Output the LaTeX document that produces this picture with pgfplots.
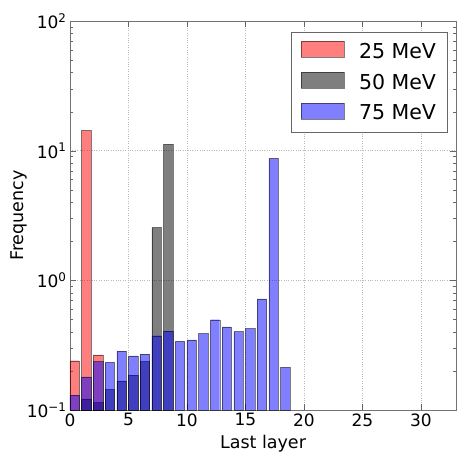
\documentclass[border=0pt]{standalone}
\usepackage{pgfplots}
\pgfplotsset{compat=1.18}
\usetikzlibrary{calc}
\usepackage{fontspec}
\setmainfont{DejaVu Sans}
\definecolor{cred}{RGB}{255,0,0}
\definecolor{cblue}{RGB}{0,0,255}
\begin{document}
\begin{tikzpicture}
\begin{axis}[
  scale only axis,
  width=386pt, height=389pt,
  xmin=0, xmax=33,
  ymode=log, ymin=0.1, ymax=100,
  log origin=infty,
  ybar, bar width=0.8, bar shift=0.4,
  xtick={0,5,10,15,20,25,30},
  ytick={0.1,1,10,100},
  yticklabels={10\textsuperscript{−1},10\textsuperscript{0},10\textsuperscript{1},10\textsuperscript{2}},
  /pgf/number format/assume math mode=true,
  tick label style={font=\fontsize{17}{20}\selectfont},
  label style={font=\fontsize{17.5}{21}\selectfont},
  xlabel={Last layer}, ylabel={Frequency},
  xlabel style={yshift=-2pt},
  ylabel style={yshift=-7pt},
  grid=major,
  major grid style={dotted, gray!55},
  axis line style={black!55},
  tick style={black!60},
  tick align=inside,
  major tick length=6pt, minor tick length=3pt,
  xtick pos=both, ytick pos=both,
  legend style={at={(0.977,0.972)}, anchor=north east, draw=black!60,
    font=\fontsize{20.5}{24}\selectfont, row sep=10pt, inner xsep=9pt, inner ysep=9pt,
    legend cell align=left},
  legend image code/.code={\draw[#1] (0pt,-6pt) rectangle (43pt,10pt);},
]
\addplot[fill=cred, draw=black, opacity=0.5] coordinates {
(0,0.24) (1,14.3) (2,0.266)};
\addlegendentry{\hspace{13pt}25 MeV\hspace{2pt}}
\addplot[fill=black, draw=black, opacity=0.5] coordinates {
(1,0.122) (2,0.114) (3,0.1445) (4,0.168) (5,0.186) (6,0.237) (7,2.55) (8,11.2)};
\addlegendentry{\hspace{13pt}50 MeV\hspace{2pt}}
\addplot[fill=cblue, draw=black, opacity=0.5] coordinates {
(0,0.13) (1,0.18) (2,0.236) (3,0.233) (4,0.284) (5,0.261) (6,0.270) (7,0.374) (8,0.405)
(9,0.339) (10,0.347) (11,0.388) (12,0.497) (13,0.437) (14,0.402) (15,0.424) (16,0.718) (17,8.73) (18,0.213)};
\addlegendentry{\hspace{13pt}75 MeV\hspace{2pt}}
\end{axis}
\pgfresetboundingbox
\path ($(current axis.south west)+(-70pt,-42pt)$) rectangle ($(current axis.north east)+(1pt,21pt)$);
\end{tikzpicture}
\end{document}
